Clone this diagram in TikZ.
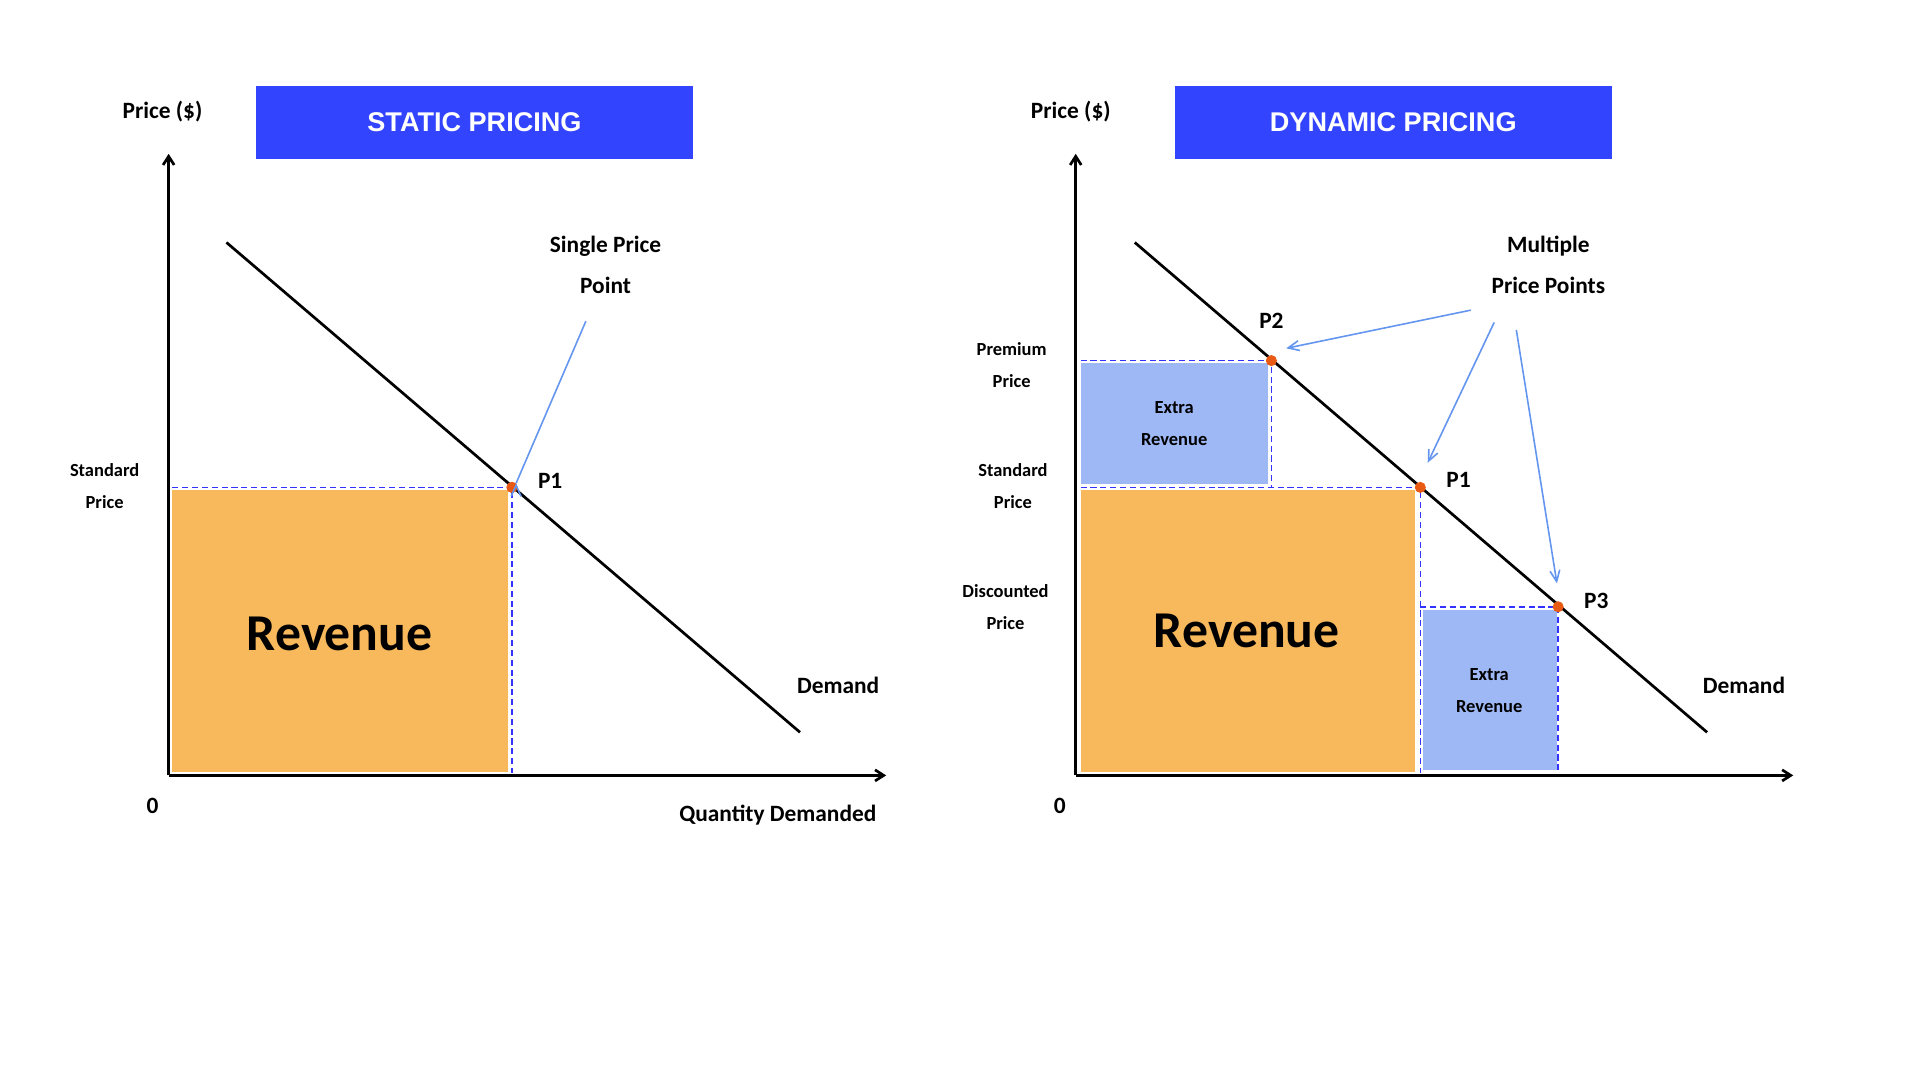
\documentclass[tikz,border=0pt]{standalone}
\usepackage{fontspec}
\setmainfont{Carlito}
\newfontfamily\arialf{Liberation Sans}
\usetikzlibrary{arrows.meta}
\begin{document}
\begin{tikzpicture}[x=1pt,y=-1pt,
  ax/.style={line width=2.2pt,-{Straight Barb[length=7pt,width=9pt]}},
  dem/.style={line width=2.2pt},
  dsh/.style={draw=blue!80!white,line width=1.3pt,dash pattern=on 5pt off 3pt},
  rev/.style={fill=orange!60!yellow!85!white,draw=none},
  rev/.style={fill={rgb,255:red,248;green,184;blue,92}},
  xrev/.style={fill={rgb,255:red,157;green,184;blue,245}},
  ttl/.style={fill={rgb,255:red,51;green,68;blue,255},text=white,font=\arialf\bfseries\fontsize{22}{26}\selectfont,minimum width=355pt,minimum height=59pt,inner sep=0},
  lbl/.style={font=\bfseries\fontsize{19}{23}\selectfont,align=center},
  sml/.style={font=\bfseries\fontsize{15}{26}\selectfont,align=center},
  pt/.style={circle,fill={rgb,255:red,232;green,90;blue,20},inner sep=0,minimum size=9pt},
  blarr/.style={draw={rgb,255:red,100;green,150;blue,240},line width=1.3pt,-{Straight Barb[length=9pt,width=8pt]}}]
\useasboundingbox (0,0) rectangle (1560,877.5);
% ---------- left ----------
\fill[rev] (140,398) rectangle (413,627);
\node[font=\bfseries\fontsize{42}{50}\selectfont] (revL) at (276,515) {Revenue};
\coordinate (oL) at (137,630);
\coordinate (yL) at (137,125);
\coordinate (xL) at (720,630);
\draw[ax] (oL) -- (yL);
\draw[ax] (oL) -- (xL);
\node[pt] (p1L) at (416,396) {};
\draw[dsh] (140,396) -- (p1L.center) -- (416,628);
\draw[dem] (184,197) -- (650,595);
\node[pt] (p1Lb) at (416,396) {};
\node[ttl] (tL) at (385.5,99.5) {STATIC PRICING};
\node[lbl] (prL) at (132,91) {Price (\$)};
\node[sml] (spL) at (85,395) {Standard\\Price};
\node[lbl] (zL) at (124,655) {0};
\node[lbl] (qL) at (632,662) {Quantity Demanded};
\node[lbl] (dL) at (681,557) {Demand};
\node[lbl,font=\bfseries\fontsize{19}{33}\selectfont] (sgl) at (492,215) {Single Price\\Point};
\node[lbl] (l1) at (447,391) {P1};
\coordinate (aL) at (476,261);
\draw[blarr] (aL) -- (p1L.north east) ++(0,0);
% ---------- right ----------
\fill[xrev] (878,295) rectangle (1030,393);
\fill[rev] (878,398) rectangle (1150,627);
\fill[xrev] (1156,496) rectangle (1265,626);
\node[font=\bfseries\fontsize{42}{50}\selectfont] (revR) at (1013,513) {Revenue};
\node[sml,font=\bfseries\fontsize{15}{26}\selectfont] (x1) at (954,344) {Extra\\Revenue};
\node[sml,font=\bfseries\fontsize{15}{26}\selectfont] (x2) at (1210,561) {Extra\\Revenue};
\coordinate (oR) at (874,630);
\coordinate (yR) at (874,125);
\coordinate (xR) at (1457,630);
\draw[ax] (oR) -- (yR);
\draw[ax] (oR) -- (xR);
\coordinate (p2) at (1033,293);
\coordinate (p1) at (1154,396);
\coordinate (p3) at (1266,493);
\draw[dsh] (878,293) -- (p2) -- (1033,396);
\draw[dsh] (878,396) -- (p1) -- (1154,628);
\draw[dsh] (1154,493) -- (p3) -- (1266,628);
\draw[dem] (922,197) -- (1387,595);
\node[pt] (P2) at (p2) {};
\node[pt] (P1) at (p1) {};
\node[pt] (P3) at (p3) {};
\node[ttl] (tR) at (1132,99.5) {DYNAMIC PRICING};
\node[lbl] (prR) at (870,91) {Price (\$)};
\node[sml] (pp) at (822,297) {Premium\\Price};
\node[sml] (sp) at (823,395) {Standard\\Price};
\node[sml] (dp) at (817,493) {Discounted\\Price};
\node[lbl] (zR) at (861,655) {0};
\node[lbl] (dR) at (1417,557) {Demand};
\node[lbl,font=\bfseries\fontsize{19}{33}\selectfont] (mul) at (1258,215) {Multiple\\Price Points};
\node[lbl] (l2) at (1033,261) {P2};
\node[lbl] (l1r) at (1185,390) {P1};
\node[lbl] (l3) at (1297,488) {P3};
\coordinate (a1) at (1195,252);
\coordinate (a2) at (1214,262);
\coordinate (a3) at (1232,268);
\coordinate (e1) at (1045,283);
\coordinate (e2) at (1160,376);
\coordinate (e3) at (1265,474);
\draw[blarr] (a1) -- (e1);
\draw[blarr] (a2) -- (e2);
\draw[blarr] (a3) -- (e3);
\end{tikzpicture}
\end{document}
